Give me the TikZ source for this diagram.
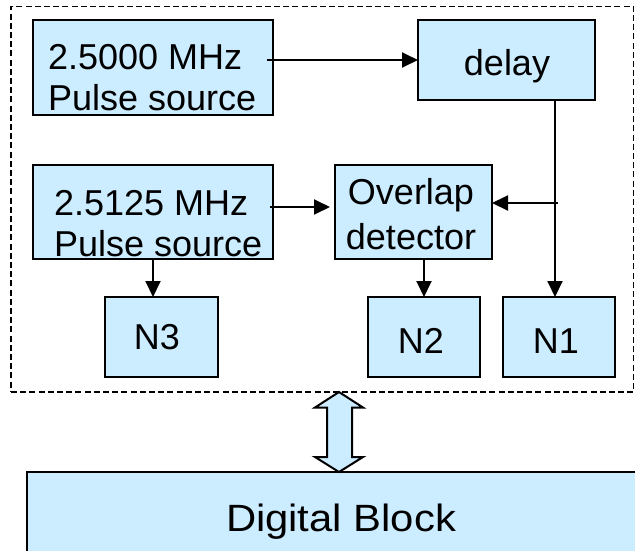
\documentclass[tikz,border=0pt]{standalone}
\usepackage{fontspec}
\usepackage{graphicx}
\setmainfont{Liberation Sans}
\usetikzlibrary{arrows.meta,calc}
\definecolor{boxblue}{RGB}{204,236,255}
\begin{document}
\begin{tikzpicture}[x=1pt,y=-1pt,
  blk/.style={draw=black, line width=2.1pt, fill=boxblue, inner sep=0pt, outer sep=0pt},
  txt/.style={font=\fontsize{36}{41}\selectfont, inner sep=0pt, outer sep=0pt},
  arr/.style={line width=1.9pt, -{Triangle[length=16pt,width=15pt]}},
  frm/.style={draw=black, line width=1.9pt, dash pattern=on 6pt off 3.2pt, inner sep=0pt, outer sep=0pt},
  dbl/.style={draw=black, line width=2pt, fill=boxblue, line join=miter}
  ]
\useasboundingbox (0,0) rectangle (635,550);
% frame
\node[frm, minimum width=622.5pt, minimum height=385.5pt] (frame) at (322.25,199.25) {};
% boxes
\node[blk, minimum width=240pt, minimum height=95pt] (b1) at (153,67.5) {};
\node[blk, minimum width=177pt, minimum height=80pt] (delay) at (506.5,60) {};
\node[blk, minimum width=240pt, minimum height=94pt] (b2) at (153,212) {};
\node[blk, minimum width=157pt, minimum height=94pt] (ov) at (413.5,212) {};
\node[blk, minimum width=113pt, minimum height=80pt] (n3) at (161.5,337) {};
\node[blk, minimum width=112pt, minimum height=80pt] (n2) at (424,337) {};
\node[blk, minimum width=112pt, minimum height=80pt] (n1) at (559,337) {};
\node[blk, minimum width=653pt, minimum height=138pt] (dig) at (353.5,541) {};
% texts
\node[txt, align=left, anchor=west] (t1) at (48,77.4) {2.5000 MHz\\Pulse source};
\node[txt, align=left, anchor=west] (t2) at (54,223.4) {2.5125 MHz\\Pulse source};
\node[txt, align=center, font=\fontsize{36}{45}\selectfont] (tov) at (411,214.5) {Overlap\\detector};
\node[txt] (tdel) at (507,66) {delay};
\node[txt] (tn3) at (157,337.5) {N3};
\node[txt] (tn2) at (421,340.5) {N2};
\node[txt] (tn1) at (556,341) {N1};
\node[txt, font=\fontsize{38}{44}\selectfont] (tdig) at (341,522) {\scalebox{1.1}[1]{Digital Block}};
% connectors
\coordinate (b1o) at (b1.east |- delay.west);
\draw[arr] ([xshift=-6pt]b1o) -- (delay.west);
\draw[arr] ([xshift=-3pt,yshift=5pt]b2.east) -- ([xshift=-5pt,yshift=5pt]ov.west);
\coordinate (dn) at ([xshift=48.5pt]delay.south);
\draw[arr] (dn) -- (dn |- n1.north);
\coordinate (bj) at (dn |- ov.east);
\draw[arr] ([xshift=3pt,yshift=9pt]bj) -- ([yshift=9pt]ov.east);
\draw[arr] (b2.south) -- (b2.south |- n3.north);
\draw[arr] (n2.north |- ov.south) -- (n2.north);
% double arrow between frame and digital block
\coordinate (ta) at (339,0 |- frame.south);
\coordinate (tb) at (339,0 |- dig.north);
\draw[dbl] (ta) -- ($(ta)+(-24,15.5)$) -- ($(ta)+(-12,15.5)$) -- ($(tb)+(-12,-15)$) -- ($(tb)+(-24,-15)$) -- (tb)
  -- ($(tb)+(24,-15)$) -- ($(tb)+(13,-15)$) -- ($(ta)+(13,15.5)$) -- ($(ta)+(24,15.5)$) -- cycle;
\end{tikzpicture}
\end{document}
